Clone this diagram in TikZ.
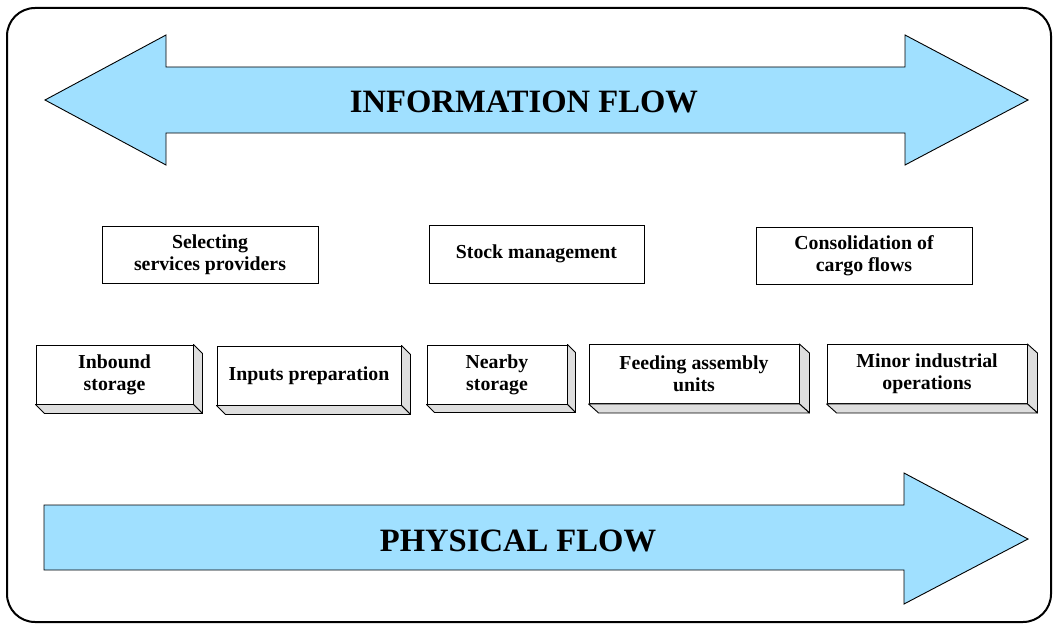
\documentclass[tikz,border=0pt]{standalone}
\usepackage{fontspec}
\setmainfont{Liberation Serif}
\usetikzlibrary{calc}
\definecolor{flowblue}{RGB}{160,224,255}
\definecolor{sidegray}{RGB}{222,222,222}
\tikzset{
    my-flow/.style={
      draw, fill=flowblue, line width=0.9pt, line join=miter
    },
    my-flow-text/.style={
      font=\fontsize{32.6}{36}\selectfont\bfseries, inner sep=0pt
    },
    my-box/.style={
      draw, fill=white, rectangle, line width=0.9pt, inner sep=0pt, align=center,
      font=\fontsize{19.8}{22}\selectfont\bfseries
    },
    my-step-box/.style={
      my-box, minimum height=59pt
    },
    my-side/.style={
      draw, fill=sidegray, line width=0.9pt, line join=round
    },
}

\begin{document}
\begin{tikzpicture}[x=1pt, y=-1pt]

        % FRAME
        \useasboundingbox (0,0) rectangle (1057,626);
        \draw[line width=2pt, rounded corners=28pt] (7,8) rectangle (1051,622);

        % INFORMATION FLOW (DOUBLE ARROW)
        \draw[my-flow] (45,100) -- (166,35) -- (166,67) -- (905,67) -- (905,35) -- (1028,100)
            -- (905,165) -- (905,133) -- (166,133) -- (166,165) -- cycle;
        \node[my-flow-text] (INFO) at (524,102) {INFORMATION FLOW};

        % PHYSICAL FLOW (SINGLE ARROW)
        \draw[my-flow] (44,505) -- (904,505) -- (904,473) -- (1028,539) -- (904,604)
            -- (904,570) -- (44,570) -- cycle;
        \node[my-flow-text] (PHYS) at (518,541) {PHYSICAL FLOW};

        % UPPER BOXES
        \node[my-box, minimum width=216pt, minimum height=57pt] (SELECT) at (210,255)   {Selecting\\services providers};
        \node[my-box, minimum width=215pt, minimum height=58pt] (STOCK)  at (536.5,254) {Stock management};
        \node[my-box, minimum width=216pt, minimum height=57pt] (CONSOL) at (864,256)   {Consolidation of\\cargo flows};

        % LOWER BOXES
        \node[my-step-box, minimum width=157pt] (INBOUND) at (114.5,374.5) {Inbound\\storage};
        \node[my-step-box, minimum width=184pt] (INPUTS)  at (309,375.5)   {Inputs preparation};
        \node[my-step-box, minimum width=140pt] (NEARBY)  at (497,374.5)   {Nearby\\storage};
        \node[my-step-box, minimum width=210pt] (FEEDING) at (694,374)     {Feeding assembly\\units};
        \node[my-step-box, minimum width=200pt] (MINOR)   at (927,374)     {Minor industrial\\operations};

        % DEPTH FACES
        \draw[my-side] (INBOUND.north east) -- ($(INBOUND.north east) + (9,9)$) -- ($(INBOUND.south east) + (9,9)$) -- (INBOUND.south east) -- cycle;
        \draw[my-side] (INBOUND.south west) -- (INBOUND.south east) -- ($(INBOUND.south east) + (9,9)$) -- ($(INBOUND.south west) + (9,9)$) -- cycle;

        \draw[my-side] (INPUTS.north east) -- ($(INPUTS.north east) + (9,9)$) -- ($(INPUTS.south east) + (9,9)$) -- (INPUTS.south east) -- cycle;
        \draw[my-side] (INPUTS.south west) -- (INPUTS.south east) -- ($(INPUTS.south east) + (9,9)$) -- ($(INPUTS.south west) + (9,9)$) -- cycle;

        \draw[my-side] (NEARBY.north east) -- ($(NEARBY.north east) + (8,8)$) -- ($(NEARBY.south east) + (8,8)$) -- (NEARBY.south east) -- cycle;
        \draw[my-side] (NEARBY.south west) -- (NEARBY.south east) -- ($(NEARBY.south east) + (8,8)$) -- ($(NEARBY.south west) + (8,8)$) -- cycle;

        \draw[my-side] (FEEDING.north east) -- ($(FEEDING.north east) + (10,9)$) -- ($(FEEDING.south east) + (10,9)$) -- (FEEDING.south east) -- cycle;
        \draw[my-side] (FEEDING.south west) -- (FEEDING.south east) -- ($(FEEDING.south east) + (10,9)$) -- ($(FEEDING.south west) + (10,9)$) -- cycle;

        \draw[my-side] (MINOR.north east) -- ($(MINOR.north east) + (10,9)$) -- ($(MINOR.south east) + (10,9)$) -- (MINOR.south east) -- cycle;
        \draw[my-side] (MINOR.south west) -- (MINOR.south east) -- ($(MINOR.south east) + (10,9)$) -- ($(MINOR.south west) + (10,9)$) -- cycle;

\end{tikzpicture}
\end{document}
